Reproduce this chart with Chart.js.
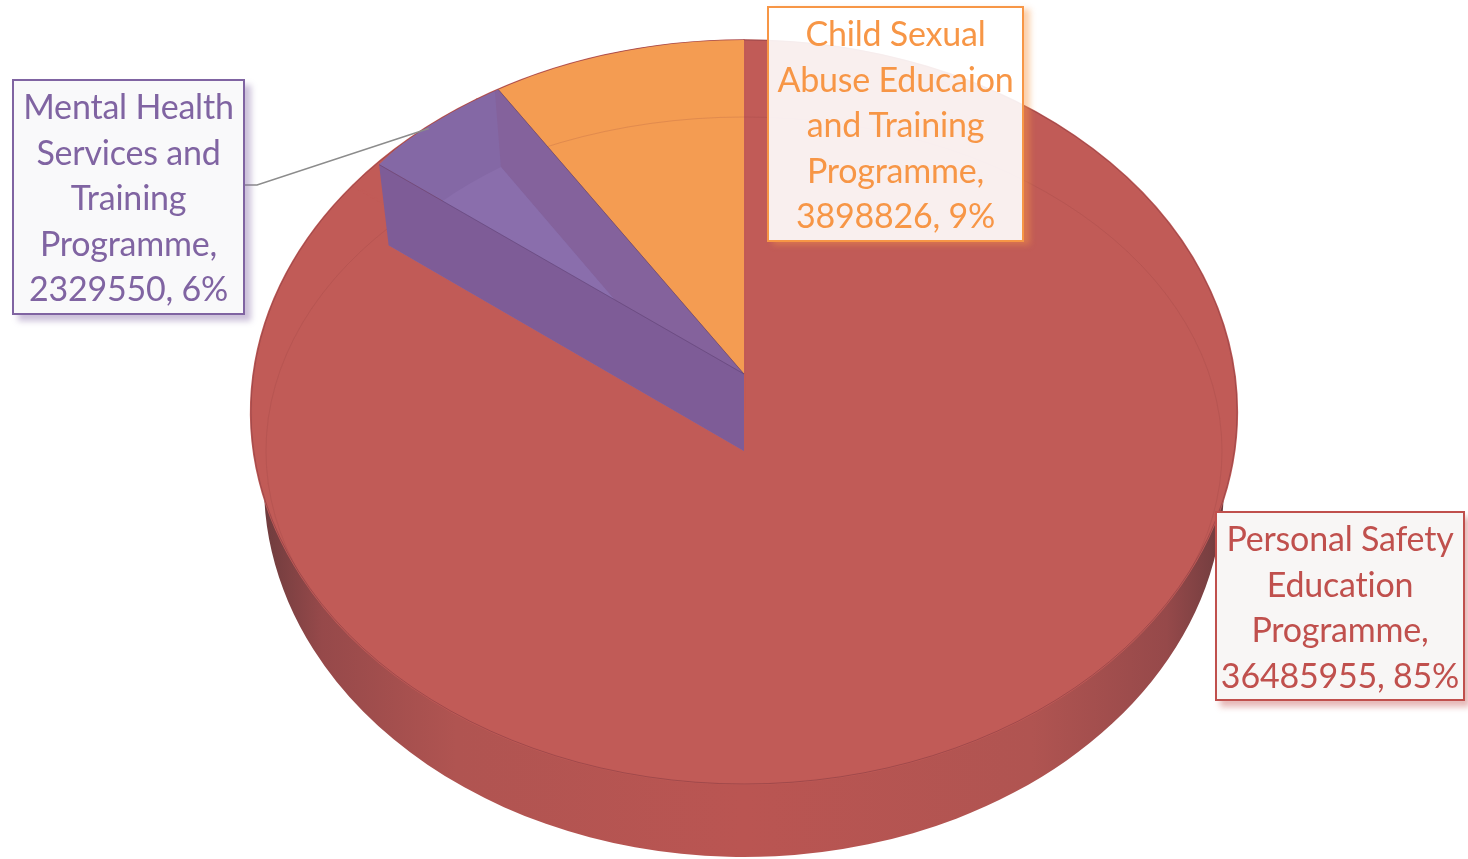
<!DOCTYPE html>
<html>
<head>
<meta charset="utf-8">
<title>Programme funding</title>
<script src="https://cdn.jsdelivr.net/npm/chart.js@4/dist/chart.umd.min.js"></script>
<style>
    html, body { margin: 0; padding: 0; background: #fff; overflow: hidden; }
    #wrap { position: relative; width: 1468px; height: 859px; }
    canvas { position: absolute; left: 0; top: 0; }
    .callout {
        position: absolute;
        box-sizing: border-box;
        border: 2.6px solid;
        font-family: Lato, sans-serif;
        font-size: 34px;
        letter-spacing: -0.2px;
        line-height: 45.5px;
        text-align: center;
        padding: 2px 0 0;
    }
</style>
</head>
<body>
<div id="wrap">
    <canvas id="pie" width="1468" height="859"></canvas>
</div>
<script>
// values, clockwise from twelve o'clock
const categories = [
    'Personal Safety Education Programme',
    'Mental Health Services and Training Programme',
    'Child Sexual Abuse Educaion and Training Programme'
];
const amounts = [36485955, 2329550, 3898826];
const percents = [85, 6, 9];

const sliceColors = ['#c15b57', '#8468a5', '#f49c52'];
const textColors = ['#c0504d', '#8064a2', '#f79646'];

// callout boxes: left, top, width, height, background, shadow
const boxes = [
    [1215, 511, 250, 190, 'rgba(248,246,245,1)', '5px 6px 6px rgba(192,80,77,.4)'],
    [12, 79, 233, 236, 'rgba(249,249,250,1)', '6px 6px 6px rgba(128,100,162,.4)'],
    [767, 6, 257, 236, 'rgba(255,255,255,.9)', '6px 3px 6px rgba(247,150,70,.45)']
];

// the fake 3d look: ellipses the round pie gets squashed onto
const wallDisc = { x: 744, y: 485, rx: 480, ry: 372 };
const faceDisc = { x: 744, y: 412, rx: 493, ry: 372 };
const rimDisc = { x: 744, y: 374, rx: 460, ry: 344 };
const floorDisc = { x: 744, y: 451, rx: 448, ry: 338 };
const seamDisc = { x: 744, y: 451, rx: 478, ry: 334 };
const leaderDisc = { x: 744, y: 374, rx: 465, ry: 334 };

function rimPoint(disc, angle) {
    return [disc.x + Math.cos(angle) * disc.rx, disc.y + Math.sin(angle) * disc.ry];
}

function drawSquashed(ctx, arc, disc, fill, closeSeams) {
    const keep = arc.options;
    arc.options = Object.assign({}, keep, { backgroundColor: fill });
    if (closeSeams) {
        arc.options.borderColor = fill;
        arc.options.borderWidth = 2;
    }
    ctx.save();
    ctx.translate(disc.x, disc.y);
    ctx.scale(disc.rx / arc.outerRadius, disc.ry / arc.outerRadius);
    ctx.translate(-arc.x, -arc.y);
    arc.draw(ctx);
    ctx.restore();
    arc.options = keep;
}

function fillPoly(ctx, points, fill) {
    ctx.beginPath();
    points.forEach((p, i) => i ? ctx.lineTo(p[0], p[1]) : ctx.moveTo(p[0], p[1]));
    ctx.closePath();
    ctx.fillStyle = fill;
    ctx.fill();
}

function strokeLine(ctx, a, b, color) {
    ctx.beginPath();
    ctx.moveTo(a[0], a[1]);
    ctx.lineTo(b[0], b[1]);
    ctx.strokeStyle = color;
    ctx.lineWidth = 1;
    ctx.stroke();
}

function strokeDisc(ctx, disc, color, width) {
    ctx.beginPath();
    ctx.ellipse(disc.x, disc.y, disc.rx, disc.ry, 0, 0, Math.PI * 2);
    ctx.strokeStyle = color;
    ctx.lineWidth = width;
    ctx.stroke();
}

const pie3d = {
    id: 'pie3d',
    beforeDatasetsDraw(chart) {
        const ctx = chart.ctx;
        const [red, purple, orange] = chart.getDatasetMeta(0).data;
        const R = red.outerRadius;

        // side wall
        const wall = ctx.createLinearGradient(red.x - R, 0, red.x + R, 0);
        wall.addColorStop(0, '#6f3c3e');
        wall.addColorStop(0.06, '#96494a');
        wall.addColorStop(0.2, '#b05451');
        wall.addColorStop(0.5, '#ba5552');
        wall.addColorStop(0.8, '#b05451');
        wall.addColorStop(0.94, '#96494a');
        wall.addColorStop(1, '#6f3c3e');
        drawSquashed(ctx, red, wallDisc, wall);

        // top face
        [red, purple, orange].forEach(arc => drawSquashed(ctx, arc, faceDisc, sliceColors[0], true));
        strokeDisc(ctx, faceDisc, 'rgba(120,50,60,.45)', 1);

        ctx.save();
        ctx.beginPath();
        ctx.ellipse(faceDisc.x, faceDisc.y, faceDisc.rx, faceDisc.ry, 0, 0, Math.PI * 2);
        ctx.clip();

        drawSquashed(ctx, orange, rimDisc, sliceColors[2]);
        strokeDisc(ctx, seamDisc, 'rgba(140,60,60,.18)', 1);

        // purple slice is cut open, so its inside shows
        const a0 = purple.startAngle, a1 = purple.endAngle;
        const apexTop = [rimDisc.x, rimDisc.y], apexFloor = [floorDisc.x, floorDisc.y];
        drawSquashed(ctx, purple, rimDisc, sliceColors[1]);
        fillPoly(ctx, [rimPoint(rimDisc, a1), rimPoint(floorDisc, a1), apexFloor, apexTop], '#84629c');
        drawSquashed(ctx, purple, floorDisc, '#8a6eac');
        fillPoly(ctx, [rimPoint(rimDisc, a0), rimPoint(floorDisc, a0), apexFloor, apexTop], '#7e5c97');
        strokeLine(ctx, rimPoint(rimDisc, a1), apexTop, 'rgba(110,70,90,.6)');
        strokeLine(ctx, rimPoint(rimDisc, a0), apexTop, 'rgba(90,60,110,.5)');
        ctx.restore();

        // leader line of the purple callout
        const mid = rimPoint(leaderDisc, (a0 + a1) / 2);
        const box = boxes[1];
        const boxRight = box[0] + box[2];
        const boxMid = box[1] + 106;
        ctx.beginPath();
        ctx.moveTo(boxRight, boxMid);
        ctx.lineTo(boxRight + 12, boxMid);
        ctx.lineTo(mid[0], mid[1]);
        ctx.strokeStyle = '#8c8c8c';
        ctx.lineWidth = 1.5;
        ctx.stroke();

        return false;
    }
};

new Chart(document.getElementById('pie'), {
    type: 'pie',
    data: {
        labels: categories,
        datasets: [{ data: amounts, backgroundColor: sliceColors, borderWidth: 0 }]
    },
    options: {
        responsive: false,
        animation: false,
        events: [],
        plugins: { legend: { display: false }, tooltip: { enabled: false } }
    },
    plugins: [pie3d]
});

// callouts
const wrap = document.getElementById('wrap');
categories.forEach((name, i) => {
    const [left, top, width, height, background, shadow] = boxes[i];
    const el = document.createElement('div');
    el.className = 'callout';
    el.textContent = `${name}, ${amounts[i]}, ${percents[i]}%`;
    el.style.cssText += `left:${left}px;top:${top}px;width:${width}px;height:${height}px;` +
        `background:${background};box-shadow:${shadow};color:${textColors[i]};border-color:${textColors[i]};`;
    wrap.appendChild(el);
});
</script>
</body>
</html>
